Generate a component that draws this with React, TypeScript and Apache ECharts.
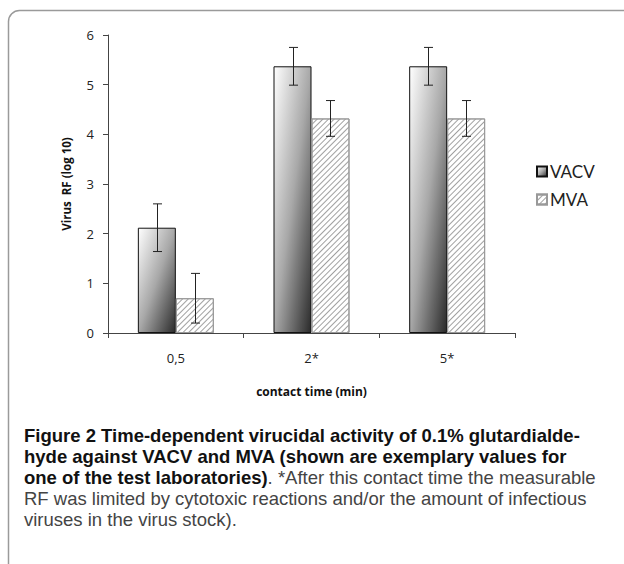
import React, { useEffect, useRef } from "react";
import * as echarts from "echarts";

const categories = ["0,5", "2*", "5*"];
const vacv = [2.12, 5.37, 5.37];
const vacvErr = [0.48, 0.38, 0.38];
const mva = [0.7, 4.32, 4.32];
const mvaErr = [0.5, 0.36, 0.36];
const yTicks = [0, 1, 2, 3, 4, 5, 6];

const captionBold1 = "Figure 2 Time-dependent virucidal activity of 0.1% glutardialde-";
const captionBold2 = "hyde against VACV and MVA (shown are exemplary values for";
const captionBold3 = "one of the test laboratories)";
const captionReg3 = ". *After this contact time the measurable";
const captionReg4 = "RF was limited by cytotoxic reactions and/or the amount of infectious";
const captionReg5 = "viruses in the virus stock).";

const GAP = 0.44;
const FONT = "Open Sans";
const CAP_FONT = "Liberation Sans";
const LEFT = 24;
const RIGHT = 608;
const MAX_CAP = 18.5;

function measure(text: string, font: string) {
  const ctx = document.createElement("canvas").getContext("2d");
  if (!ctx) return text.length * 9;
  ctx.font = font;
  return ctx.measureText(text).width;
}

function fitSize(text: string, bold: boolean, width: number, maxSize: number) {
  const w = measure(text, `${bold ? "bold " : ""}100px "${CAP_FONT}"`);
  return Math.min(maxSize, (100 * width) / w);
}

function errorSeries(name: string, vals: number[], errs: number[], side: number) {
  return {
    type: "custom",
    name: name + " err",
    silent: true,
    z: 5,
    encode: { x: 0, y: 1 },
    data: categories.map((_, i) => [i, vals[i], errs[i]]),
    renderItem: (params: any, api: any) => {
      const ci = api.value(0);
      const v = api.value(1);
      const e = api.value(2);
      const band = api.size([1, 0])[0];
      const bw = (band * (1 - GAP)) / 2;
      const top = api.coord([ci, v + e]);
      const bot = api.coord([ci, v - e]);
      const x = Math.round(top[0] + (side * bw) / 2) + 0.5;
      const cw = 4.5;
      const st = { stroke: "#222", lineWidth: 1 };
      return {
        type: "group",
        children: [
          { type: "line", shape: { x1: x, y1: top[1], x2: x, y2: bot[1] }, style: st },
          { type: "line", shape: { x1: x - cw, y1: top[1], x2: x + cw, y2: top[1] }, style: st },
          { type: "line", shape: { x1: x - cw, y1: bot[1], x2: x + cw, y2: bot[1] }, style: st },
        ],
      };
    },
  };
}

export default function App() {
  const ref = useRef<HTMLDivElement>(null);
  useEffect(() => {
    const chart = echarts.init(ref.current!, null, { renderer: "svg" });
    const grad = new echarts.graphic.LinearGradient(0, 0, 1, 1, [
      { offset: 0, color: "#ffffff" },
      { offset: 0.5, color: "#a8a8a8" },
      { offset: 1, color: "#2a2a2a" },
    ]);
    const hatch = {
      symbol: "rect",
      symbolSize: 1,
      dashArrayX: [1, 0],
      dashArrayY: [1, 2.6],
      rotation: -Math.PI / 4,
      color: "#a0a0a0",
    };
    const span = RIGHT - LEFT;
    const boldSize = Math.min(
      fitSize(captionBold1, true, span, MAX_CAP),
      fitSize(captionBold2, true, span - 25, MAX_CAP)
    );
    const regSize = fitSize(captionReg4, false, span, MAX_CAP);
    const capText = (text: string, x: number, yMid: number, bold: boolean) => ({
      type: "text",
      x,
      y: yMid,
      style: {
        text,
        fontFamily: CAP_FONT,
        fontSize: bold ? boldSize : regSize,
        fontWeight: bold ? "bold" : "normal",
        lineHeight: 18,
        verticalAlign: "middle",
        align: "left",
        fill: bold ? "#111" : "#444",
      },
    });
    const boldW = measure(captionBold3, `bold ${boldSize}px "${CAP_FONT}"`);
    chart.setOption({
      animation: false,
      textStyle: { fontFamily: FONT },
      grid: { left: 108, right: 109, top: 35, bottom: 231 },
      legend: {
        orient: "vertical",
        left: 531,
        top: 158,
        itemWidth: 10,
        itemHeight: 10,
        itemGap: 11,
        icon: "rect",
        data: ["VACV", "MVA"],
        textStyle: { fontFamily: "Lato", fontSize: 17, color: "#222", padding: [0, 0, 0, -2] },
      },
      xAxis: {
        type: "category",
        data: categories,
        name: "contact time (min)",
        nameLocation: "middle",
        nameGap: 52,
        nameTextStyle: { fontFamily: FONT, fontSize: 12, fontWeight: "bold", color: "#111" },
        axisLine: { lineStyle: { color: "#444", width: 1 } },
        axisTick: { show: true, length: 5, lineStyle: { color: "#444" } },
        axisLabel: { fontSize: 13, color: "#222", margin: 18 },
        splitLine: { show: false },
      },
      yAxis: {
        type: "value",
        min: yTicks[0],
        max: yTicks[yTicks.length - 1],
        interval: 1,
        name: "Virus  RF (log 10)",
        nameLocation: "middle",
        nameRotate: 90,
        nameGap: 36,
        nameTextStyle: { fontFamily: FONT, fontSize: 11.5, fontWeight: "bold", color: "#111" },
        axisLine: { show: true, lineStyle: { color: "#444", width: 1 } },
        axisTick: { show: true, length: 5, lineStyle: { color: "#444" } },
        axisLabel: { fontSize: 13, color: "#222", margin: 14 },
        splitLine: { show: false },
      },
      series: [
        {
          type: "bar",
          name: "VACV",
          data: vacv,
          barGap: "0%",
          barCategoryGap: GAP * 100 + "%",
          itemStyle: { color: grad, borderColor: "#111", borderWidth: 1 },
        },
        {
          type: "bar",
          name: "MVA",
          data: mva,
          barGap: "0%",
          barCategoryGap: GAP * 100 + "%",
          itemStyle: { color: "#ffffff", borderColor: "#999", borderWidth: 1, decal: hatch },
        },
        errorSeries("VACV", vacv, vacvErr, -1),
        errorSeries("MVA", mva, mvaErr, 1),
      ],
      graphic: [
        {
          type: "rect",
          silent: true,
          shape: { x: 8.5, y: 10.5, width: 700, height: 700, r: 11 },
          style: { fill: "none", stroke: "#9a9a9a", lineWidth: 1.5 },
        },
        capText(captionBold1, LEFT, 435, true),
        capText(captionBold2, LEFT, 456, true),
        capText(captionBold3, LEFT, 477, true),
        capText(captionReg3, LEFT + boldW, 477, false),
        capText(captionReg4, LEFT, 498, false),
        capText(captionReg5, LEFT, 519, false),
      ],
    });
    return () => chart.dispose();
  }, []);
  return (
    <div
      ref={ref}
      style={{ position: "fixed", left: 0, top: 0, width: 624, height: 564, background: "#fff" }}
    />
  );
}
